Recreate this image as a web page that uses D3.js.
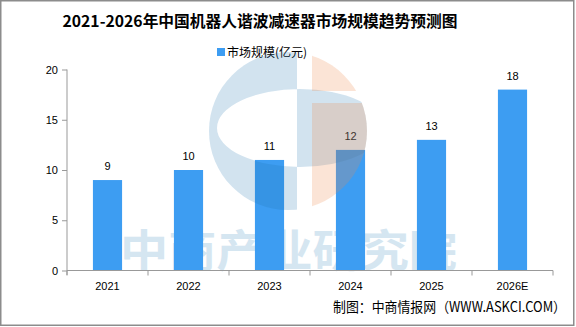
<!DOCTYPE html>
<html>
<head>
<meta charset="UTF-8">
<style>
  body { margin: 0; background: #fff; }
  svg { display: block; font-family: "Noto Sans CJK SC", sans-serif; }
  .axis text { font-family: "Liberation Sans", Arial, sans-serif; font-size: 11px; fill: #000; }
  .axis path, .axis line { stroke: #999; }
</style>
</head>
<body>
<svg width="576" height="327"></svg>
<script src="https://d3js.org/d3.v7.min.js"></script>
<script>
const years = ["2021", "2022", "2023", "2024", "2025", "2026E"];
const marketSize = [9, 10, 11, 12, 13, 18];
const yTicks = [0, 5, 10, 15, 20];
const seriesName = "市场规模(亿元)";
const titleText = "2021-2026年中国机器人谐波减速器市场规模趋势预测图";
const sourceText = "制图：中商情报网（WWW.ASKCI.COM）";

const svg = d3.select("svg");
const plotL = 67, plotR = 553, plotT = 69.5, plotB = 270.5;

const x = d3.scaleBand().domain(years).range([plotL, plotR]).paddingInner(0.64).paddingOuter(0.32);
const band = d3.scaleBand().domain(years).range([plotL, plotR]);
const y = d3.scaleLinear().domain([0, 20]).range([plotB, plotT]);

// frame
svg.append("rect")
  .attr("x", 0.75).attr("y", 0.75).attr("width", 573).attr("height", 324.5)
  .attr("fill", "none").attr("stroke", "#8c8c8c").attr("stroke-width", 1.5);

// title
svg.append("text")
  .attr("x", 260).attr("y", 27)
  .attr("text-anchor", "middle")
  .attr("font-size", 15.5).attr("font-weight", "bold")
  .attr("textLength", 395).attr("lengthAdjust", "spacingAndGlyphs")
  .text(titleText);

// legend
svg.append("rect").attr("x", 217).attr("y", 48).attr("width", 8).attr("height", 8).attr("fill", "#3d9df2");
svg.append("text").attr("x", 227).attr("y", 57).attr("font-size", 12).text(seriesName);

// watermark text behind bars
svg.append("text")
  .attr("x", 120).attr("y", 267)
  .attr("font-size", 44).attr("font-weight", "bold")
  .attr("fill", "#d5e6f1")
  .attr("textLength", 337).attr("lengthAdjust", "spacingAndGlyphs")
  .text("中商产业研究院");

// bars
svg.append("g").selectAll("rect")
  .data(marketSize)
  .join("rect")
  .attr("x", (d, i) => x(years[i]))
  .attr("width", x.bandwidth())
  .attr("y", d => y(d))
  .attr("height", d => y(0) - y(d))
  .attr("fill", "#3d9df2");

// value labels
svg.append("g").selectAll("text")
  .data(marketSize)
  .join("text")
  .attr("x", (d, i) => x(years[i]) + x.bandwidth() / 2)
  .attr("y", d => y(d) - 10)
  .attr("text-anchor", "middle")
  .attr("font-family", "Liberation Sans, Arial, sans-serif")
  .attr("font-size", 11)
  .text(d => d);

// logo watermark on top
const defs = svg.append("defs");
defs.append("clipPath").attr("id", "logo")
  .append("circle").attr("cx", 288).attr("cy", 131).attr("r", 79);
const logo = svg.append("g").attr("clip-path", "url(#logo)");
logo.append("path")
  .attr("d", "M200,50H297V215H200Z M217,128a83,39 0 1,0 166,0a83,39 0 1,0 -166,0Z")
  .attr("fill-rule", "evenodd")
  .attr("fill", "rgb(30,115,175)").attr("fill-opacity", 0.2);
logo.append("path")
  .attr("d", "M312,50H370V91H312Z M312,103H370V215H312Z")
  .attr("fill", "rgb(238,140,76)").attr("fill-opacity", 0.23);

// axes
svg.append("g").attr("class", "axis")
  .attr("transform", `translate(${plotL},0)`)
  .call(d3.axisLeft(y).tickValues(yTicks).tickSize(5).tickSizeOuter(0).tickPadding(4))
  .call(g => g.select(".domain").attr("d", `M0,${plotT}V${plotB + 4.5}`));

const xAxis = svg.append("g").attr("class", "axis")
  .attr("transform", `translate(0,${plotB})`);
xAxis.append("line").attr("x1", plotL).attr("x2", plotR).attr("stroke", "#999");
xAxis.selectAll(".tk")
  .data(years.concat([null]))
  .join("line")
  .attr("class", "tk")
  .attr("x1", (d, i) => i < years.length ? band(d) : plotR)
  .attr("x2", (d, i) => i < years.length ? band(d) : plotR)
  .attr("y1", 0).attr("y2", 5)
  .attr("stroke", "#999");
xAxis.selectAll(".lb")
  .data(years)
  .join("text")
  .attr("class", "lb")
  .attr("x", d => band(d) + band.bandwidth() / 2)
  .attr("y", 19)
  .attr("text-anchor", "middle")
  .text(d => d);

// source
svg.append("text")
  .attr("x", 566).attr("y", 312)
  .attr("text-anchor", "end")
  .attr("font-size", 14)
  .attr("textLength", 233).attr("lengthAdjust", "spacingAndGlyphs")
  .text(sourceText);
</script>
</body>
</html>
